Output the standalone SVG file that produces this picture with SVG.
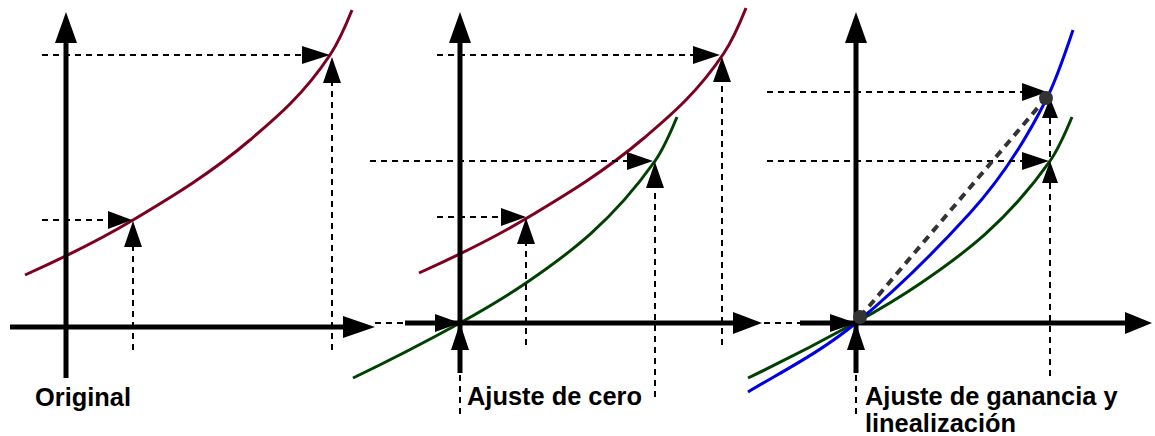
<svg xmlns="http://www.w3.org/2000/svg" width="1155" height="436" viewBox="0 0 1155 436">
<style>
.ax{stroke:#000;stroke-width:5;fill:none}
.ah{fill:#000;stroke:none}
.ds{stroke:#000;stroke-width:2;stroke-dasharray:6 5;fill:none}
.red{stroke:#7e0021;stroke-width:3;fill:none}
.grn{stroke:#004000;stroke-width:3;fill:none}
.blu{stroke:#0000e6;stroke-width:3;fill:none}
.lbl{font-family:"Liberation Sans",Arial,sans-serif;font-weight:bold;font-size:25.4px;fill:#000}
</style>
<defs>
<path id="redc" d="M25,275 C61,258.8 97,241.6 133,220 C172,196.6 211,173.2 250,140 C276.7,117.3 303.3,95 330,55 C337.3,44 344.7,28.3 352,10"/>
<path id="grnc" d="M353,378 C388.7,360.9 424.3,342.6 460,323 C482,310.9 504,298 526,283 C569,253.8 612,221.8 655,161 C662.3,150.7 669.7,134.6 677,117"/>
</defs>
<rect width="1155" height="436" fill="#fff"/>

<g id="panel1">
  <use href="#redc" class="red"/>
  <path class="ds" d="M42,55H304 M42,220H110 M133,350V246 M332,350V82"/>
  <polygon class="ah" points="302,46 330,55 302,64"/>
  <polygon class="ah" points="108,211 132,220 108,229"/>
  <polygon class="ah" points="124,247 133,221 142,247"/>
  <polygon class="ah" points="323,83 332,57 341,83"/>
  <path class="ax" d="M66,378V40 M10,327H346"/>
  <polygon class="ah" points="55,43 66,12 77,43"/>
  <polygon class="ah" points="343,316 375,327 343,338"/>
  <text class="lbl" x="35" y="406">Original</text>
</g>

<g id="panel2">
  <use href="#redc" class="red" transform="translate(394,-2)"/>
  <use href="#grnc" class="grn"/>
  <path class="ds" d="M437,55H695 M370,161H629 M437,217H503 M526,345V243 M655,397V187 M722,345V81 M375,323H405 M460,375V417"/>
  <polygon class="ah" points="693,46 720,55 693,64"/>
  <polygon class="ah" points="627,152 653,161 627,170"/>
  <polygon class="ah" points="501,208 526,217 501,226"/>
  <polygon class="ah" points="517,244 526,218 535,244"/>
  <polygon class="ah" points="646,188 655,162 664,188"/>
  <polygon class="ah" points="713,82 722,57 731,82"/>
  <path class="ax" d="M460,373V40 M405,323H736"/>
  <polygon class="ah" points="449,43 460,12 471,43"/>
  <polygon class="ah" points="733,312 762,323 733,334"/>
  <polygon class="ah" points="435,314 460,323 435,332"/>
  <polygon class="ah" points="451,350 460,323 469,350"/>
  <text class="lbl" x="467" y="405">Ajuste de cero</text>
</g>

<g id="panel3">
  <use href="#grnc" class="grn" transform="translate(395,0)"/>
  <path class="blu" d="M748,392 C784,370.4 820,352.5 856,323 C894,291.8 932,254.8 970,213 C995.7,184.8 1021.3,149.3 1047,98 C1055.7,80.7 1064.3,56 1073,30"/>
  <path class="ds" d="M767,92H1025 M767,161H1024 M1050,118V160 M1050,183V380 M764,323H802 M856,375V416"/>
  <polygon class="ah" points="1022,83 1047,92 1022,101"/>
  <polygon class="ah" points="1022,152 1049,161 1022,170"/>
  <polygon class="ah" points="1042,118 1050,98 1058,118"/>
  <polygon class="ah" points="1042,183 1050,161 1058,183"/>
  <path class="ax" d="M856,373V40 M800,323H1128"/>
  <polygon class="ah" points="845,43 856,12 867,43"/>
  <polygon class="ah" points="1125,312 1152,323 1125,334"/>
  <polygon class="ah" points="830,314 856,323 830,332"/>
  <polygon class="ah" points="847,350 856,323 865,350"/>
  <path d="M860,317L1046,98" stroke="#333" stroke-width="4" stroke-dasharray="8 6" fill="none"/>
  <circle cx="860" cy="317" r="7" fill="#333"/>
  <circle cx="1046" cy="98" r="7" fill="#333"/>
  <text class="lbl" x="865" y="405">Ajuste de ganancia y</text>
  <text class="lbl" x="865" y="432">linealización</text>
</g>
</svg>
